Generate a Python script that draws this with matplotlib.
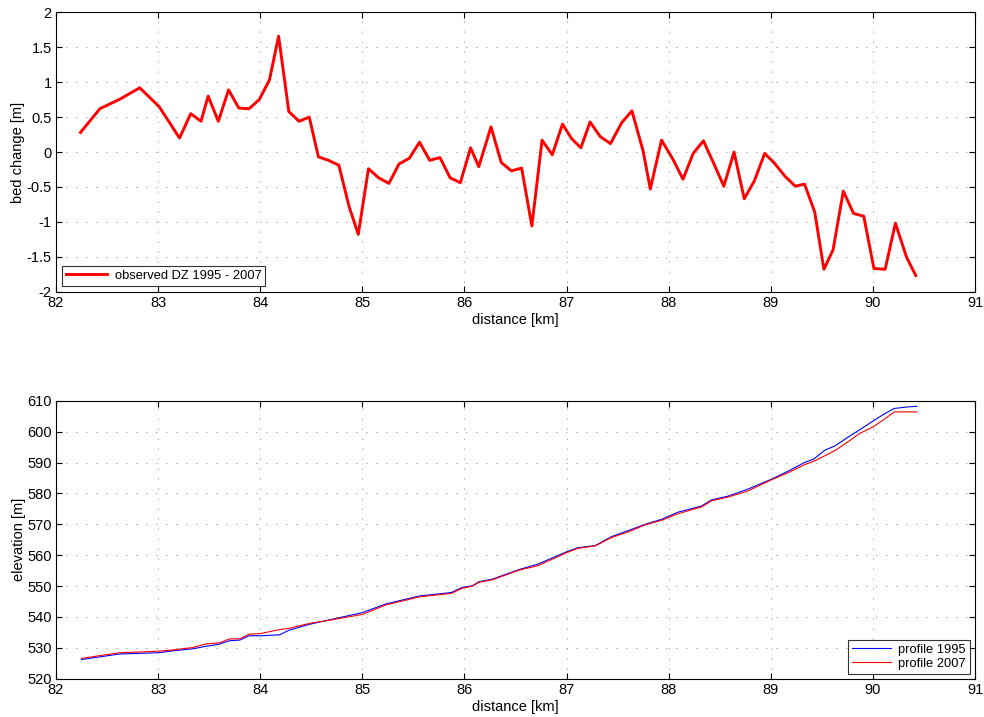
import numpy as np
import matplotlib
matplotlib.use('Agg')
import matplotlib.pyplot as plt

plt.rcParams['font.family'] = ['Liberation Sans', 'DejaVu Sans']
plt.rcParams['font.size'] = 10.5

# observed bed change
x_dz = [82.24, 82.43, 82.63, 82.82, 83.01, 83.21, 83.32, 83.42, 83.49, 83.59,
        83.69, 83.79, 83.89, 83.99, 84.09, 84.18, 84.28, 84.38, 84.48, 84.57,
        84.67, 84.77, 84.87, 84.96, 85.06, 85.16, 85.26, 85.36, 85.46, 85.56,
        85.66, 85.76, 85.86, 85.96, 86.06, 86.14, 86.26, 86.36, 86.46, 86.56,
        86.66, 86.76, 86.86, 86.96, 87.05, 87.14, 87.23, 87.33, 87.43, 87.54,
        87.64, 87.75, 87.82, 87.93, 88.04, 88.14, 88.24, 88.34, 88.44, 88.54,
        88.64, 88.74, 88.84, 88.94, 89.03, 89.14, 89.24, 89.33, 89.43, 89.52,
        89.61, 89.71, 89.81, 89.91, 90.01, 90.12, 90.22, 90.33, 90.42]
dz = [0.28, 0.62, 0.76, 0.92, 0.65, 0.20, 0.55, 0.44, 0.80, 0.44,
      0.89, 0.63, 0.62, 0.75, 1.03, 1.66, 0.58, 0.44, 0.50, -0.07,
      -0.12, -0.19, -0.78, -1.18, -0.24, -0.37, -0.45, -0.17, -0.09, 0.14,
      -0.12, -0.08, -0.37, -0.44, 0.06, -0.21, 0.36, -0.15, -0.27, -0.23,
      -1.06, 0.17, -0.04, 0.40, 0.19, 0.06, 0.43, 0.22, 0.12, 0.42,
      0.59, 0.01, -0.53, 0.17, -0.10, -0.39, -0.02, 0.16, -0.16, -0.49,
      0.00, -0.67, -0.41, -0.02, -0.15, -0.35, -0.49, -0.46, -0.86, -1.68,
      -1.40, -0.56, -0.88, -0.92, -1.67, -1.68, -1.02, -1.51, -1.77]

# longitudinal profiles
x_prof = [82.25, 82.62, 83.0, 83.14, 83.34, 83.47, 83.60, 83.70, 83.80, 83.89,
          84.0, 84.19, 84.28, 84.48, 84.67, 85.0, 85.23, 85.56, 85.87, 85.98,
          86.08, 86.14, 86.27, 86.54, 86.72, 87.0, 87.11, 87.28, 87.44, 87.6,
          87.77, 87.93, 88.09, 88.32, 88.42, 88.58, 88.77, 89.0, 89.17, 89.33,
          89.42, 89.53, 89.63, 89.76, 89.87, 90.0, 90.12, 90.21, 90.34, 90.43]
z1995 = [526.2, 528.0, 528.4, 529.0, 529.7, 530.5, 531.2, 532.3, 532.5, 533.9,
         533.9, 534.2, 535.7, 537.6, 539.0, 541.4, 544.2, 546.8, 547.9, 549.6,
         550.1, 551.4, 552.2, 555.4, 557.1, 561.1, 562.4, 563.1, 566.0, 567.9,
         570.0, 571.6, 573.9, 575.9, 577.9, 579.1, 581.3, 584.5, 587.2, 590.0,
         591.1, 594.0, 595.4, 598.3, 600.6, 603.4, 605.9, 607.5, 608.0, 608.2]
z2007 = [526.6, 528.4, 528.9, 529.3, 530.1, 531.3, 531.6, 532.9, 532.9, 534.4,
         534.6, 535.9, 536.3, 537.9, 538.9, 540.8, 543.9, 546.5, 547.6, 549.3,
         550.0, 551.2, 552.0, 555.2, 556.6, 560.8, 562.2, 563.0, 565.7, 567.5,
         569.8, 571.3, 573.4, 575.6, 577.6, 578.8, 580.7, 584.3, 586.7, 589.3,
         590.4, 592.2, 593.9, 596.8, 599.4, 601.5, 604.2, 606.4, 606.4, 606.4]

fig = plt.figure(figsize=(9.84, 7.17), dpi=100)
ax1 = fig.add_axes([0.0569, 0.5933, 0.934, 0.3894])
ax2 = fig.add_axes([0.0569, 0.0534, 0.934, 0.3877])

def matlab_style(ax):
    ax.grid(True, linestyle=(0, (1, 11)), color='0.35', linewidth=0.6)
    ax.tick_params(direction='in', top=True, right=True, length=4, width=0.8,
                   labelsize=10.5, pad=3)
    for s in ax.spines.values():
        s.set_linewidth(0.8)
    ax.set_xlim(82, 91)
    ax.set_xticks(range(82, 92))

ax1.plot(x_dz, dz, color='red', lw=2.1, label='observed DZ 1995 - 2007')
matlab_style(ax1)
ax1.set_ylim(-2, 2)
ax1.set_yticks(np.arange(-2, 2.01, 0.5))
ax1.set_yticklabels(['-2', '-1.5', '-1', '-0.5', '0', '0.5', '1', '1.5', '2'])
ax1.set_xlabel('distance [km]', labelpad=2)
ax1.set_ylabel('bed change [m]', labelpad=1)
leg1 = ax1.legend(loc='lower left', fancybox=False, edgecolor='black',
                  borderaxespad=0.45, handlelength=3.2, borderpad=0.3,
                  fontsize=9.3, handletextpad=0.6)
leg1.get_frame().set_linewidth(0.8)

ax2.plot(x_prof, z1995, color='blue', lw=0.8, label='profile 1995')
ax2.plot(x_prof, z2007, color='red', lw=0.8, label='profile 2007')
matlab_style(ax2)
ax2.set_ylim(520, 610)
ax2.set_yticks(range(520, 611, 10))
ax2.set_xlabel('distance [km]', labelpad=2)
ax2.set_ylabel('elevation [m]', labelpad=1)
leg2 = ax2.legend(loc='lower right', fancybox=False, edgecolor='black',
                  borderaxespad=0.4, handlelength=3.0, borderpad=0.3,
                  labelspacing=0.15, fontsize=9.3, handletextpad=0.6)
leg2.get_frame().set_linewidth(0.8)

fig.savefig('out.png', dpi=100)
